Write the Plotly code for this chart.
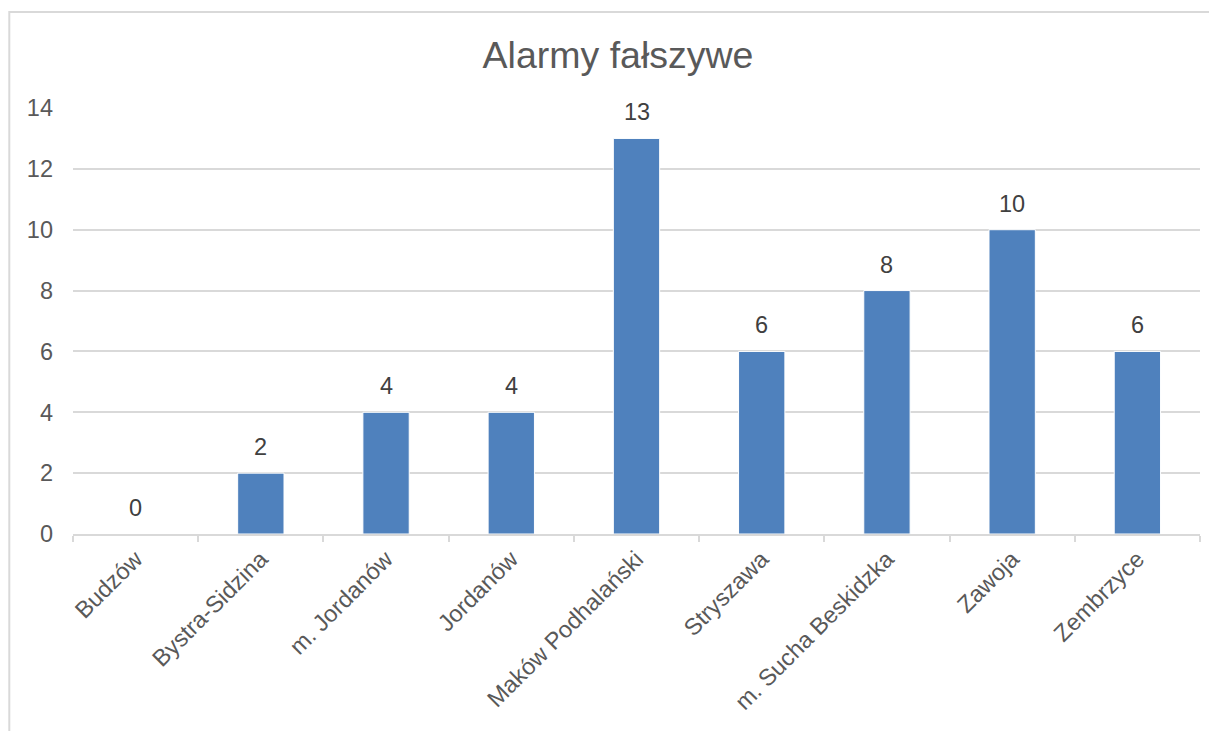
import plotly.graph_objects as go

categories = ["Budzów", "Bystra-Sidzina", "m. Jordanów", "Jordanów", "Maków Podhalański",
              "Stryszawa", "m. Sucha Beskidzka", "Zawoja", "Zembrzyce"]
values = [0, 2, 4, 4, 13, 6, 8, 10, 6]
title_text = "Alarmy fałszywe"
y_ticks = [0, 2, 4, 6, 8, 10, 12, 14]

FONT = "Liberation Sans, Arial, sans-serif"
OFF = 8  # page body margin
W, H = 1217 - OFF, 731 - OFF
L, R, T, B = 73 - OFF, 17, 108 - OFF, 197

fig = go.Figure(go.Bar(
    x=categories, y=values,
    marker=dict(color="#4F81BD", line=dict(color="#ffffff", width=1)),
    width=0.37,
    hoverinfo="x+y",
))

for c, v in zip(categories, values):
    fig.add_annotation(x=c, y=v, text=str(v), showarrow=False, yshift=26,
                       yanchor="middle", font=dict(family=FONT, size=23.5, color="#404040"))

pw = W - L - R
ph = H - T - B
fig.add_shape(type="rect", xref="paper", yref="paper",
              x0=(9.3 - OFF - L) / pw, x1=(1240 - L) / pw,
              y0=(H - B - 760) / ph, y1=(H - B - (12 - OFF)) / ph,
              line=dict(color="#d9d9d9", width=2), fillcolor="rgba(0,0,0,0)", layer="below")

fig.update_layout(
    width=W, height=H,
    margin=dict(l=L, r=R, t=T, b=B),
    paper_bgcolor="white", plot_bgcolor="white",
    showlegend=False,
    title=dict(text=title_text, x=(618 - OFF) / W, xanchor="center", xref="container",
               y=1 - (55 - OFF) / H, yanchor="middle", yref="container",
               font=dict(family=FONT, size=37.5, color="#595959")),
    font=dict(family=FONT, size=23, color="#595959"),
)
fig.update_xaxes(type="category", tickangle=-45, ticks="outside", tickson="boundaries",
                 ticklen=6, tickcolor="#d9d9d9", tickwidth=2, showline=True, linecolor="#d9d9d9",
                 linewidth=2, showgrid=False,
                 tickfont=dict(family=FONT, size=23.5, color="#595959"))
fig.update_yaxes(range=[0, 14], tickvals=y_ticks, showgrid=True, gridcolor="#d9d9d9", gridwidth=2,
                 zeroline=False, showline=False, ticks="", ticklabelstandoff=19,
                 tickfont=dict(family=FONT, size=23.5, color="#595959"))

fig.write_html("out.html")
